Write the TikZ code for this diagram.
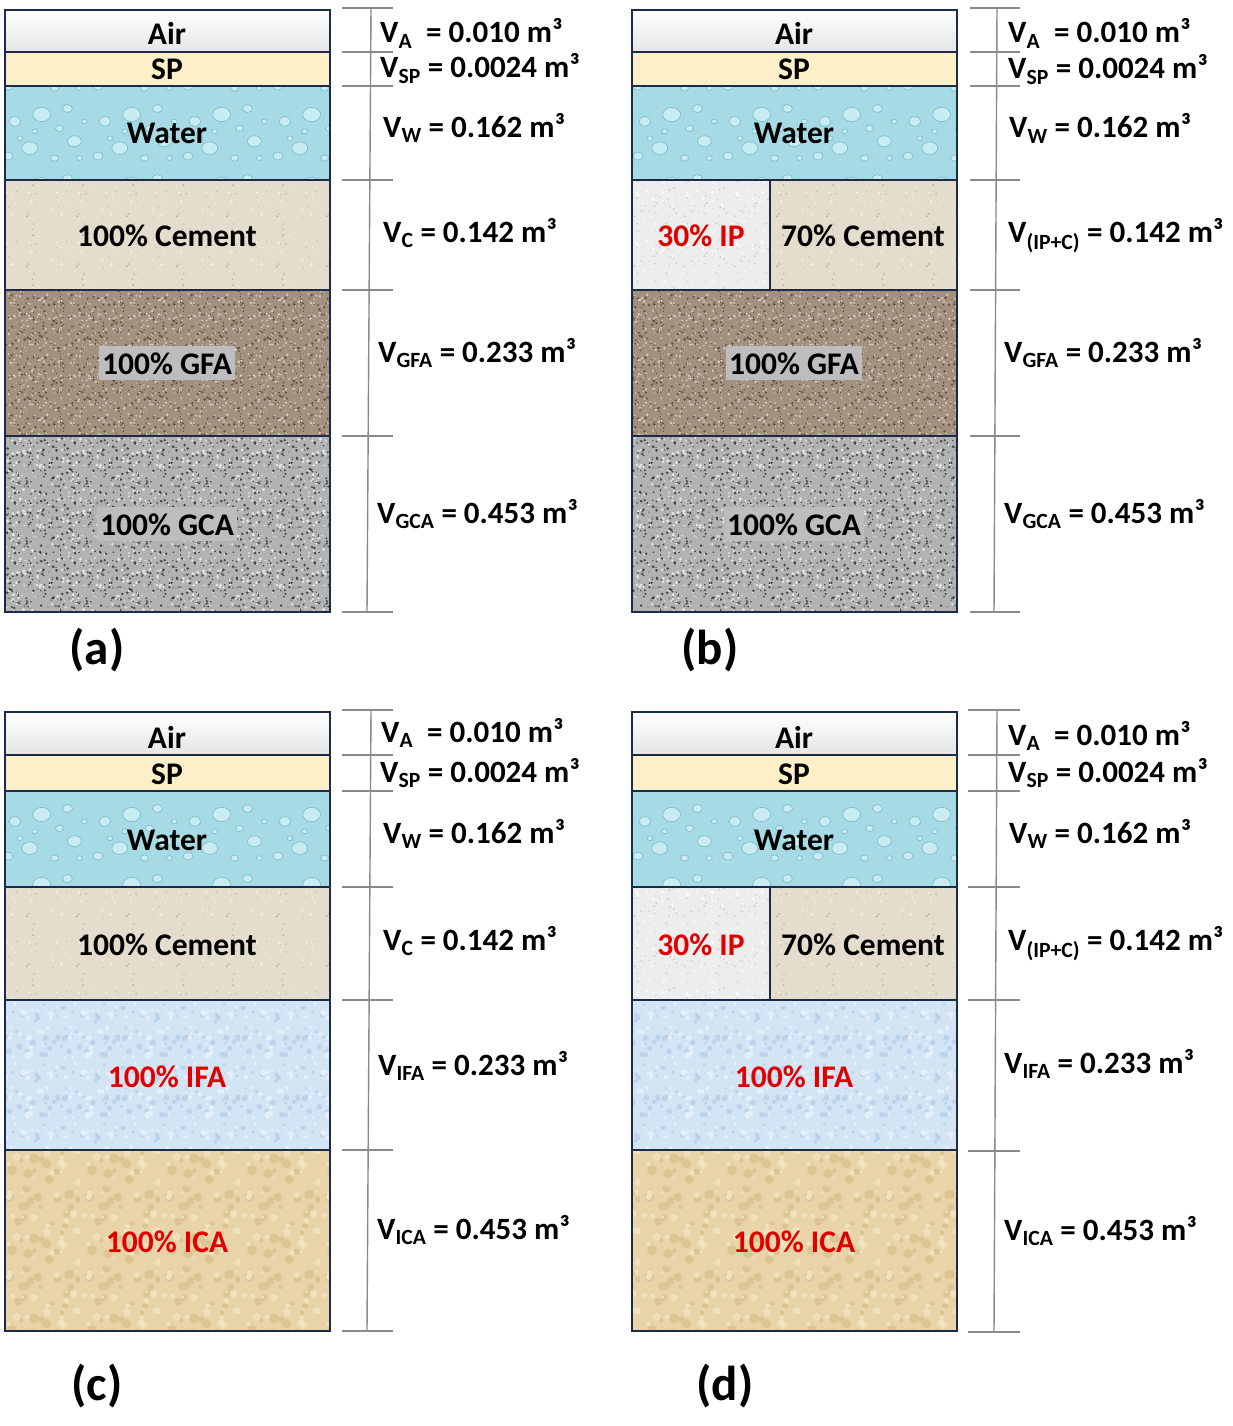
\documentclass[tikz,border=0pt]{standalone}
\usepackage{fontspec}
\setmainfont{Carlito}
\usetikzlibrary{patterns}
\definecolor{edgec}{HTML}{1C2B4A}
\definecolor{scalec}{HTML}{8A8A8A}
\definecolor{airc}{HTML}{F0F0F0}
\definecolor{spc}{HTML}{FDF0C8}
\definecolor{waterc}{HTML}{A6DAE4}
\definecolor{bubl}{HTML}{C9ECF2}
\definecolor{bubc}{HTML}{7FBFCD}
\definecolor{cemc}{HTML}{E4DCCD}
\definecolor{cemd}{HTML}{BDB2A0}
\definecolor{gfac}{HTML}{A39180}
\definecolor{gfad}{HTML}{62523F}
\definecolor{gfal}{HTML}{D9CDBF}
\definecolor{gcac}{HTML}{B2B2B2}
\definecolor{gcad}{HTML}{454545}
\definecolor{gcal}{HTML}{E6E6E6}
\definecolor{ipc}{HTML}{EDEDED}
\definecolor{ipd}{HTML}{CFCFCF}
\definecolor{ifac}{HTML}{D3E4F5}
\definecolor{ifad}{HTML}{BDD3EB}
\definecolor{ifal}{HTML}{E6F0FA}
\definecolor{icac}{HTML}{E8D4A8}
\definecolor{icad}{HTML}{DCC493}
\definecolor{ical}{HTML}{F0E1BF}
\definecolor{redc}{HTML}{E00000}
\definecolor{boxc}{HTML}{BDBDBD}
\pgfmathsetseed{11}
\newcommand\pdots[4]{\pgfsetfillcolor{#2}\foreach \i in {1,...,#1}{\pgfmathsetmacro\px{rnd*#3}\pgfmathsetmacro\py{rnd*#3}\pgfmathsetmacro\pr{#4*(0.4+0.6*rnd)}\pgfpathcircle{\pgfpoint{\px pt}{\py pt}}{\pr pt}\pgfusepath{fill}}}
\pgfdeclarepatterninherentlycolored{cempat}{\pgfpointorigin}{\pgfpoint{50pt}{50pt}}{\pgfpoint{50pt}{50pt}}{\pdots{14}{cemd}{50}{1.1}\pdots{10}{white!60!cemc}{50}{1.6}}
\pgfdeclarepatterninherentlycolored{gfapat}{\pgfpointorigin}{\pgfpoint{60pt}{60pt}}{\pgfpoint{60pt}{60pt}}{\pdots{110}{gfad}{60}{1.4}\pdots{110}{gfal}{60}{1.4}}
\pgfdeclarepatterninherentlycolored{gcapat}{\pgfpointorigin}{\pgfpoint{60pt}{60pt}}{\pgfpoint{60pt}{60pt}}{\pdots{70}{gcal}{60}{1.8}\pdots{90}{gcad}{60}{1.5}\pdots{40}{gray}{60}{1.5}}
\pgfdeclarepatterninherentlycolored{ippat}{\pgfpointorigin}{\pgfpoint{50pt}{50pt}}{\pgfpoint{50pt}{50pt}}{\pdots{30}{ipd}{50}{1.2}\pdots{15}{white}{50}{1.6}}
\pgfdeclarepatterninherentlycolored{ifapat}{\pgfpointorigin}{\pgfpoint{60pt}{60pt}}{\pgfpoint{60pt}{60pt}}{\pdots{30}{ifad}{60}{3}\pdots{30}{ifal}{60}{3}}
\pgfdeclarepatterninherentlycolored{icapat}{\pgfpointorigin}{\pgfpoint{80pt}{80pt}}{\pgfpoint{80pt}{80pt}}{\pdots{30}{icad}{80}{5}\pdots{25}{ical}{80}{4}}
\pgfdeclarepatterninherentlycolored{waterpat}{\pgfpointorigin}{\pgfpoint{90pt}{70pt}}{\pgfpoint{90pt}{70pt}}{%
  \pgfsetlinewidth{0.7pt}\pgfsetstrokecolor{bubc}\pgfsetfillcolor{bubl}%
  \foreach \bx/\by/\br in {8/10/5,30/18/8,55/8/4,75/25/7,15/45/6,42/52/9,68/58/5,85/45/3,35/35/3,60/38/4,20/28/3,80/8/3}{%
    \pgfpathellipse{\pgfpoint{\bx pt}{\by pt}}{\pgfpoint{\br pt}{0pt}}{\pgfpoint{0pt}{0.8*\br pt}}\pgfusepath{fill,stroke}}}
\tikzset{
  edge/.style={draw=edgec, line width=1.3pt},
  scaleline/.style={draw=scalec, line width=1.4pt},
  lab/.style={font=\fontsize{31.5}{35}\selectfont\bfseries, anchor=base, inner sep=0pt},
  redlab/.style={lab, text=redc},
  boxlab/.style={lab, fill=boxc, text height=22pt, text depth=0pt, inner ysep=6pt, inner xsep=3pt},
  val/.style={font=\fontsize{31}{35}\selectfont\bfseries, anchor=base west, inner sep=0pt},
  plabel/.style={font=\fontsize{49}{55}\selectfont\bfseries, anchor=base, inner sep=0pt}
}
\newcommand\txAir[4]{\shade[top color=white, bottom color=airc!90!gray] (#1,#2) rectangle (#3,#4);}
\newcommand\txSP[4]{\fill[spc] (#1,#2) rectangle (#3,#4);}
\newcommand\txWater[4]{\fill[waterc] (#1,#2) rectangle (#3,#4);\fill[pattern=waterpat] (#1,#2) rectangle (#3,#4);}
\newcommand\txCem[4]{\fill[cemc] (#1,#2) rectangle (#3,#4);\fill[pattern=cempat] (#1,#2) rectangle (#3,#4);}
\newcommand\txGFA[4]{\fill[gfac] (#1,#2) rectangle (#3,#4);\fill[pattern=gfapat] (#1,#2) rectangle (#3,#4);}
\newcommand\txGCA[4]{\fill[gcac] (#1,#2) rectangle (#3,#4);\fill[pattern=gcapat] (#1,#2) rectangle (#3,#4);}
\newcommand\txIP[4]{\fill[ipc] (#1,#2) rectangle (#3,#4);\fill[pattern=ippat] (#1,#2) rectangle (#3,#4);}
\newcommand\txIFA[4]{\fill[ifac] (#1,#2) rectangle (#3,#4);\fill[pattern=ifapat] (#1,#2) rectangle (#3,#4);}
\newcommand\txICA[4]{\fill[icac] (#1,#2) rectangle (#3,#4);\fill[pattern=icapat] (#1,#2) rectangle (#3,#4);}
\newcommand\layer[5]{#5{#1}{#2}{#3}{#4}\draw[edge] (#1,#2) rectangle (#3,#4);}
\newcommand\scalebar[4]{\draw[scaleline] (#1,#2) -- (#3,#4);}
\newcommand\tick[3]{\draw[scaleline] (#1,#3) -- (#2,#3);}
\begin{document}
\begin{tikzpicture}[x=1pt,y=-1pt]
\useasboundingbox (0,0) rectangle (1233,1426);
\fill[white] (0,0) rectangle (1233,1426);
% ---------------- (a)
\layer{5}{10}{330}{52}{\txAir}
\layer{5}{52}{330}{86}{\txSP}
\layer{5}{86}{330}{180}{\txWater}
\layer{5}{180}{330}{290}{\txCem}
\layer{5}{290}{330}{436}{\txGFA}
\layer{5}{436}{330}{612}{\txGCA}
\node[lab] (a-air) at (167,45) {Air};
\node[lab] (a-sp) at (167,80) {SP};
\node[lab] (a-w) at (167,143) {Water};
\node[lab] (a-c) at (167,246) {100\% Cement};
\node[boxlab] (a-gfa) at (167,374) {100\% GFA};
\node[boxlab] (a-gca) at (167,535) {100\% GCA};
\scalebar{371}{8}{367}{612}
\foreach \y in {8,52,86,180,290,436,612}{\tick{342}{393}{\y}}
\node[val] (a-va) at (380,43) {V\textsubscript{A}\ \ = 0.010 m³};
\node[val] (a-vsp) at (380,78) {V\textsubscript{SP} = 0.0024 m³};
\node[val] (a-vw) at (383,137) {V\textsubscript{W} = 0.162 m³};
\node[val] (a-vc) at (383,242) {V\textsubscript{C} = 0.142 m³};
\node[val] (a-vgfa) at (378,362) {V\textsubscript{GFA} = 0.233 m³};
\node[val] (a-vgca) at (377,523) {V\textsubscript{GCA} = 0.453 m³};
\node[plabel] (a-lab) at (97,664) {(a)};
% ---------------- (b)
\layer{632}{10}{957}{52}{\txAir}
\layer{632}{52}{957}{86}{\txSP}
\layer{632}{86}{957}{180}{\txWater}
\layer{632}{180}{770}{290}{\txIP}
\layer{770}{180}{957}{290}{\txCem}
\layer{632}{290}{957}{436}{\txGFA}
\layer{632}{436}{957}{612}{\txGCA}
\node[lab] (b-air) at (794,45) {Air};
\node[lab] (b-sp) at (794,80) {SP};
\node[lab] (b-w) at (794,143) {Water};
\node[redlab] (b-ip) at (701,246) {30\% IP};
\node[lab] (b-c) at (863,246) {70\% Cement};
\node[boxlab] (b-gfa) at (794,374) {100\% GFA};
\node[boxlab] (b-gca) at (794,535) {100\% GCA};
\scalebar{997}{8}{994}{612}
\foreach \y in {8,52,86,180,290,436,612}{\tick{970}{1020}{\y}}
\node[val] (b-va) at (1008,43) {V\textsubscript{A}\ \ = 0.010 m³};
\node[val] (b-vsp) at (1008,79) {V\textsubscript{SP} = 0.0024 m³};
\node[val] (b-vw) at (1009,138) {V\textsubscript{W} = 0.162 m³};
\node[val] (b-vc) at (1008,242) {V\textsubscript{(IP+C)} = 0.142 m³};
\node[val] (b-vgfa) at (1004,362) {V\textsubscript{GFA} = 0.233 m³};
\node[val] (b-vgca) at (1004,523) {V\textsubscript{GCA} = 0.453 m³};
\node[plabel] (b-lab) at (710,664) {(b)};
% ---------------- (c)
\layer{5}{712}{330}{755}{\txAir}
\layer{5}{755}{330}{791}{\txSP}
\layer{5}{791}{330}{887}{\txWater}
\layer{5}{887}{330}{1000}{\txCem}
\layer{5}{1000}{330}{1150}{\txIFA}
\layer{5}{1150}{330}{1331}{\txICA}
\node[lab] (c-air) at (167,748) {Air};
\node[lab] (c-sp) at (167,784) {SP};
\node[lab] (c-w) at (167,850) {Water};
\node[lab] (c-c) at (167,955) {100\% Cement};
\node[redlab] (c-ifa) at (167,1087) {100\% IFA};
\node[redlab] (c-ica) at (167,1252) {100\% ICA};
\scalebar{371}{710}{367}{1331}
\foreach \y in {710,755,791,887,1000,1150,1331}{\tick{342}{393}{\y}}
\node[val] (c-va) at (381,742) {V\textsubscript{A}\ \ = 0.010 m³};
\node[val] (c-vsp) at (380,782) {V\textsubscript{SP} = 0.0024 m³};
\node[val] (c-vw) at (383,843) {V\textsubscript{W} = 0.162 m³};
\node[val] (c-vc) at (383,950) {V\textsubscript{C} = 0.142 m³};
\node[val] (c-vifa) at (378,1075) {V\textsubscript{IFA} = 0.233 m³};
\node[val] (c-vica) at (377,1239) {V\textsubscript{ICA} = 0.453 m³};
\node[plabel] (c-lab) at (97,1400) {(c)};
% ---------------- (d)
\layer{632}{712}{957}{755}{\txAir}
\layer{632}{755}{957}{791}{\txSP}
\layer{632}{791}{957}{887}{\txWater}
\layer{632}{887}{770}{1000}{\txIP}
\layer{770}{887}{957}{1000}{\txCem}
\layer{632}{1000}{957}{1150}{\txIFA}
\layer{632}{1150}{957}{1331}{\txICA}
\node[lab] (d-air) at (794,748) {Air};
\node[lab] (d-sp) at (794,784) {SP};
\node[lab] (d-w) at (794,850) {Water};
\node[redlab] (d-ip) at (701,955) {30\% IP};
\node[lab] (d-c) at (863,955) {70\% Cement};
\node[redlab] (d-ifa) at (794,1087) {100\% IFA};
\node[redlab] (d-ica) at (794,1252) {100\% ICA};
\scalebar{997}{710}{994}{1332}
\foreach \y in {710,755,791,887,1000,1151,1332}{\tick{968}{1020}{\y}}
\node[val] (d-va) at (1008,745) {V\textsubscript{A}\ \ = 0.010 m³};
\node[val] (d-vsp) at (1008,782) {V\textsubscript{SP} = 0.0024 m³};
\node[val] (d-vw) at (1009,843) {V\textsubscript{W} = 0.162 m³};
\node[val] (d-vc) at (1008,950) {V\textsubscript{(IP+C)} = 0.142 m³};
\node[val] (d-vifa) at (1004,1073) {V\textsubscript{IFA} = 0.233 m³};
\node[val] (d-vica) at (1004,1240) {V\textsubscript{ICA} = 0.453 m³};
\node[plabel] (d-lab) at (725,1400) {(d)};
\end{tikzpicture}
\end{document}
